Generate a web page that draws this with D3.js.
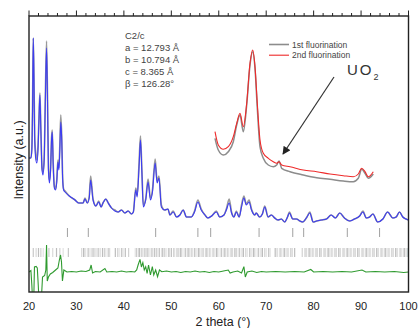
<!DOCTYPE html>
<html>
<head>
<meta charset="utf-8">
<script src="https://d3js.org/d3.v7.min.js"></script>
<style>
  body { margin: 0; background: #fff; }
  text { font-family: "Liberation Sans", Arial, sans-serif; }
</style>
</head>
<body>
<div id="chart"></div>
<script>
// Data (intensity in arbitrary units)
var theta = [
  20.0, 20.4, 20.6, 20.75, 20.9, 21.05, 21.2, 21.45, 21.65, 21.9,
  22.1, 22.3, 22.5, 22.75, 22.95, 23.2, 23.45, 23.7, 23.9, 24.1,
  24.3, 24.55, 24.75, 24.9, 25.1, 25.35, 25.6, 25.85, 26.1, 26.3,
  26.5, 26.7, 26.9, 27.1, 27.3, 27.6, 28.5, 29.7, 30.5, 31.4,
  31.8, 32.3, 32.7, 33.0, 33.5, 34.1, 34.7, 35.2, 35.6, 36.2,
  36.7, 37.4, 38.1, 38.8, 39.5, 40.2, 40.9, 41.6, 42.0, 42.5,
  42.8, 43.2, 43.5, 43.8, 44.1, 44.6, 45.1, 45.6, 46.0, 46.6,
  47.0, 47.4, 47.9, 48.6, 49.3, 49.7, 50.4, 51.1, 51.8, 52.5,
  53.2, 54.2, 54.9, 55.6, 56.3, 57.1, 57.7, 58.5, 59.5, 60.2,
  61.1, 61.6, 62.2, 62.7, 63.2, 63.7, 64.3, 64.8, 65.3, 65.8,
  66.4, 66.9, 67.6, 67.9, 68.6, 69.2, 69.7, 70.4, 71.1, 71.8,
  72.5, 73.2, 73.9, 74.5, 74.9, 75.6, 76.4, 77.1, 77.7, 78.6,
  79.2, 79.9, 80.6, 81.6, 82.7, 83.7, 84.6, 85.5, 86.5, 87.6,
  88.6, 89.7, 90.4, 91.1, 91.8, 92.5, 93.5, 94.6, 95.6, 96.7,
  97.4, 98.1, 98.8, 99.5, 100.0
];

var calcI = [
  134, 134, 142, 182, 254, 212, 152, 132, 129, 142,
  172, 197, 162, 122, 117, 132, 192, 244, 192, 122,
  109, 122, 152, 160, 127, 104, 102, 110, 130, 122,
  142, 170, 152, 112, 102, 100, 96, 92, 89, 89,
  93, 89, 94, 112, 92, 86, 90, 85, 89, 93,
  89, 84, 81, 80, 82, 79, 81, 78, 80, 102,
  95, 125, 152, 119, 85, 92, 110, 92, 99, 129,
  109, 114, 85, 82, 83, 77, 80, 75, 77, 82,
  75, 75, 80, 90, 82, 77, 74, 76, 80, 75,
  77, 82, 89, 79, 75, 80, 75, 85, 94, 87,
  90, 82, 77, 79, 75, 78, 85, 75, 77, 74,
  72, 73, 70, 75, 79, 73, 73, 71, 70, 75,
  79, 70, 71, 72, 73, 77, 74, 79, 74, 71,
  73, 76, 80, 74, 75, 78, 70, 73, 80, 74,
  75, 80, 75, 73, 72
];

var obsI = [
  134, 134, 144, 187, 254, 214, 157, 137, 132, 147,
  174, 199, 164, 124, 120, 134, 197, 251, 197, 124,
  112, 124, 154, 162, 129, 106, 103, 112, 132, 124,
  147, 177, 156, 114, 103, 101, 96, 92, 89, 89,
  94, 89, 96, 116, 93, 86, 91, 85, 89, 93,
  89, 84, 82, 80, 82, 79, 81, 78, 80, 104,
  97, 129, 156, 122, 87, 93, 113, 94, 101, 133,
  111, 116, 87, 82, 83, 77, 81, 75, 77, 82,
  75, 75, 81, 92, 83, 77, 74, 76, 81, 75,
  77, 83, 93, 80, 75, 81, 75, 87, 96, 88,
  92, 83, 77, 79, 75, 78, 86, 75, 77, 74,
  72, 73, 70, 75, 80, 73, 73, 71, 70, 75,
  80, 70, 71, 72, 73, 77, 74, 79, 74, 71,
  73, 76, 81, 74, 75, 78, 70, 73, 80, 74,
  75, 80, 75, 73, 72
];

// difference curve [2theta, value]
var diffData = [
  [20.0, 20], [20.4, 21.5], [20.6, 7], [20.75, -8], [21.0, -8], [21.15, 25],
  [21.5, 25.5], [21.75, 24], [21.95, 7], [22.1, -8], [22.6, -8], [22.85, 15],
  [23.3, 16.5], [23.55, 22], [23.7, 47], [23.85, 11], [24.1, 15], [24.5, 18],
  [25.0, 19.5], [25.6, 22], [26.1, 24], [26.4, 32], [26.65, 37], [26.85, 30],
  [27.05, 11], [27.35, 22], [28.0, 20], [29.0, 20.5], [30.0, 20], [31.0, 21],
  [32.0, 20.5], [32.8, 22], [33.1, 27], [33.4, 19], [34.0, 20.5], [35.0, 20],
  [36.0, 23.5], [36.4, 20], [37.5, 20.5], [38.5, 20], [39.5, 21], [40.5, 20],
  [41.5, 20.5], [42.3, 20], [42.7, 22], [43.0, 27], [43.4, 32.7], [43.7, 25],
  [44.0, 29.3], [44.3, 22], [44.6, 25.3], [44.9, 18.7], [45.2, 27], [45.6, 17],
  [46.0, 25.3], [46.3, 17], [46.7, 22], [47.1, 15.3], [47.5, 22], [48.0, 20.3],
  [49.0, 21], [50.0, 20], [51.0, 20.5], [52.0, 19.5], [53.0, 20.5], [54.0, 20],
  [55.0, 21], [56.0, 20], [57.0, 20.5], [58.0, 19.5], [59.0, 20.5], [60.0, 20],
  [61.0, 21], [62.0, 22], [62.4, 19], [63.0, 20], [64.0, 21], [64.8, 19],
  [65.3, 25.3], [65.6, 15], [66.0, 20], [67.0, 21], [68.0, 19.5], [69.0, 20.5],
  [70.0, 20], [72.0, 20.5], [74.0, 20], [76.0, 20.5], [78.0, 20], [79.4, 22.5],
  [80.0, 20], [82.0, 20.5], [84.0, 20], [86.0, 20.5], [88.0, 20], [90.2, 22],
  [91.0, 20], [93.0, 20.5], [95.0, 20], [97.0, 20.5], [99.0, 19.5], [100.0, 20]
];

// Bragg reflection markers
var phaseTicks = [28.1, 32.5, 46.7, 55.6, 58.3, 68.5, 75.6, 77.9, 87.1, 93.9];
var refTicks = [
  20.9, 21.5, 22.0, 22.5, 23.0, 24.2, 25.0, 25.8, 26.5, 27.2, 28.3,
  31.1, 31.5, 31.8, 32.3, 32.6, 33.1, 33.5, 33.9, 34.3, 34.6, 35.0, 35.5,
  35.9, 36.2, 36.7, 37.0, 38.2, 38.7, 39.0, 39.5, 39.8, 40.3, 41.0,
  42.4, 42.7, 43.1, 43.3, 43.7, 43.9, 44.3, 44.5, 44.9, 45.1, 45.5, 45.9,
  46.1, 46.5, 46.9, 47.2, 47.5, 48.0, 48.2, 48.6, 48.9, 49.4, 49.6, 50.0,
  50.5, 50.7, 51.2, 51.5, 51.9, 52.2, 52.7, 53.0, 53.4, 53.7, 54.2, 54.5,
  54.9, 55.2, 55.7, 56.0, 56.4, 56.7, 57.2, 57.5, 58.0, 58.3, 58.8, 59.0,
  59.5, 59.8, 60.3, 60.6, 61.1, 61.3, 61.8, 62.1, 62.6, 62.9, 63.4, 63.7,
  64.1, 64.4, 64.9, 65.2, 65.7, 66.0, 66.5, 66.8, 67.3, 67.6, 68.1, 68.4,
  68.9, 69.2, 69.7, 70.0, 70.5, 70.8, 71.9, 72.3, 72.8, 73.1, 73.6, 73.9,
  74.4, 74.7, 75.2, 75.5, 76.0, 77.6, 78.1, 78.4, 78.9, 79.2, 79.7, 80.0,
  80.5, 80.8, 81.3, 81.6, 82.1, 82.4, 82.9, 83.2, 83.7, 84.0, 84.5, 84.8,
  85.3, 85.6, 86.1, 86.4, 86.9, 87.2, 87.7, 88.0, 88.5, 88.8, 89.3, 89.6,
  90.1, 90.4, 90.9, 91.2, 91.7, 92.0, 92.5, 92.8, 93.3, 93.6, 94.1, 94.4,
  94.9, 95.2, 95.7, 96.0, 96.5, 96.8, 97.3, 97.6, 98.1, 98.4, 98.9, 99.2,
  99.7, 100.0
];

// inset: fluorination patterns [2theta, value]
var firstFluo = [
  [20.0, 61.7], [20.33, 50], [20.83, 45], [21.33, 48.3], [21.83, 58.3], [22.17, 75],
  [22.5, 85], [22.83, 68.3], [23.17, 95], [23.5, 135], [23.77, 148.3], [24.0, 131.7],
  [24.23, 91.7], [24.5, 53.3], [24.83, 41.7], [25.33, 35], [25.83, 33.3], [26.17, 35],
  [26.4, 39], [26.67, 31.7], [27.5, 28.3], [28.83, 25], [30.17, 22.3], [31.5, 20.7],
  [32.83, 19], [33.83, 18.3], [34.33, 21.7], [34.67, 30.7], [35.0, 26.7], [35.33, 21.7],
  [35.83, 26]
];
var secondFluo = [
  [20.0, 68.3], [20.33, 55], [20.83, 50.7], [21.33, 53.3], [21.83, 63.3], [22.17, 76.7],
  [22.5, 86.7], [22.83, 73.3], [23.17, 96.7], [23.5, 136.7], [23.77, 150], [24.0, 133.3],
  [24.23, 96.7], [24.5, 60], [24.83, 46.7], [25.33, 41.7], [25.83, 38.3], [26.17, 36.7],
  [26.4, 38.3], [26.67, 35], [27.5, 33.3], [28.83, 30], [30.17, 28.3], [31.5, 26],
  [32.83, 24.3], [33.83, 23.3], [34.33, 26], [34.67, 31.7], [35.0, 28.3], [35.33, 23.3],
  [35.83, 28.3]
];

var xTicks = [20, 30, 40, 50, 60, 70, 80, 90, 100];
var cellLines = ["C2/c", "a = 12.793 Å", "b = 10.794 Å", "c = 8.365 Å", "β = 126.28°"];
var legendLabels = ["1st fluorination", "2nd fluorination"];

// Set up chart
var svgWidth = 420;
var svgHeight = 328;

var margin = {top: 16, right: 11.5, bottom: 36, left: 29};
var width = svgWidth - margin.left - margin.right;
var height = svgHeight - margin.top - margin.bottom;

var svg = d3.select("#chart")
  .append("svg")
  .attr("width", svgWidth)
  .attr("height", svgHeight);

var chartGroup = svg.append("g")
  .attr("transform", `translate(${margin.left}, ${margin.top})`);

var xScale = d3.scaleLinear().domain([20, 100]).range([0, width]);
var yScale = d3.scaleLinear().domain([0, 276]).range([height, 0]);

svg.append("defs").append("clipPath")
  .attr("id", "plotClip")
  .append("rect")
  .attr("width", width)
  .attr("height", height);

svg.select("defs").append("marker")
  .attr("id", "arrowHead")
  .attr("viewBox", "0 0 10 10")
  .attr("refX", 9)
  .attr("refY", 5)
  .attr("markerWidth", 9)
  .attr("markerHeight", 8)
  .attr("markerUnits", "userSpaceOnUse")
  .attr("orient", "auto")
  .append("path")
  .attr("d", "M0,0 L10,5 L0,10 z")
  .attr("fill", "#222");

var plot = chartGroup.append("g").attr("clip-path", "url(#plotClip)");

var mainLine = d3.line()
  .x(d => xScale(d[0]))
  .y(d => yScale(d[1]))
  .curve(d3.curveMonotoneX);

var obsPoints = theta.map((t, i) => [t, obsI[i]]);
var calcPoints = theta.map((t, i) => [t, calcI[i]]);

plot.append("path")
  .datum(obsPoints)
  .attr("d", mainLine)
  .attr("fill", "none")
  .attr("stroke", "#9a9a9a")
  .attr("stroke-width", 1.6);

plot.append("path")
  .datum(calcPoints)
  .attr("d", mainLine)
  .attr("fill", "none")
  .attr("stroke", "#3c3cf2")
  .attr("stroke-width", 1.1);

// reflection markers
plot.selectAll(".phaseTick")
  .data(phaseTicks)
  .enter()
  .append("line")
  .attr("x1", d => xScale(d))
  .attr("x2", d => xScale(d))
  .attr("y1", 212)
  .attr("y2", 221)
  .attr("stroke", "#a0a0a0")
  .attr("stroke-width", 1);

var refShades = ["#c8c8c8", "#dadada", "#bdbdbd", "#d2d2d2", "#e2e2e2"];
plot.selectAll(".refTick")
  .data(refTicks)
  .enter()
  .append("line")
  .attr("x1", d => xScale(d))
  .attr("x2", d => xScale(d))
  .attr("y1", 232)
  .attr("y2", 241)
  .attr("stroke", (d, i) => i === refTicks.length - 1 ? "#55cccc" : refShades[i % refShades.length])
  .attr("stroke-width", 1.2);

plot.append("path")
  .datum(diffData)
  .attr("d", d3.line().x(d => xScale(d[0])).y(d => yScale(d[1])))
  .attr("fill", "none")
  .attr("stroke", "#2f9a2f")
  .attr("stroke-width", 1.1);

// Frame and axes
chartGroup.append("rect")
  .attr("width", width)
  .attr("height", height)
  .attr("fill", "none")
  .attr("stroke", "#222")
  .attr("stroke-width", 1.4);

var topTicks = d3.range(20, 101, 2);
chartGroup.selectAll(".topTick")
  .data(topTicks)
  .enter()
  .append("line")
  .attr("x1", d => xScale(d))
  .attr("x2", d => xScale(d))
  .attr("y1", 0)
  .attr("y2", d => d % 10 === 0 ? -5.5 : -3)
  .attr("stroke", "#222")
  .attr("stroke-width", 1);

chartGroup.selectAll(".xLabel")
  .data(xTicks)
  .enter()
  .append("text")
  .attr("x", d => xScale(d))
  .attr("y", height + 17.5)
  .attr("text-anchor", "middle")
  .attr("font-size", "11px")
  .attr("fill", "#222")
  .text(d => d);

chartGroup.append("text")
  .attr("x", 194)
  .attr("y", height + 34)
  .attr("text-anchor", "middle")
  .attr("font-size", "12.5px")
  .attr("fill", "#222")
  .text("2 theta (°)");

svg.append("text")
  .attr("transform", "translate(23, 160) rotate(-90)")
  .attr("text-anchor", "middle")
  .attr("font-size", "12.5px")
  .attr("fill", "#222")
  .text("Intensity (a.u.)");

// Cell parameters
chartGroup.selectAll(".cellText")
  .data(cellLines)
  .enter()
  .append("text")
  .attr("x", 96)
  .attr("y", (d, i) => 22.5 + i * 12)
  .attr("font-size", "9.5px")
  .attr("fill", "#444")
  .text(d => d);

// Inset
var insetX = d3.scaleLinear().domain([20, 36]).range([215, 375]);
var insetY = d3.scaleLinear().domain([0, 160]).range([200, 40]);
var insetLine = d3.line()
  .x(d => insetX(d[0]))
  .y(d => insetY(d[1]))
  .curve(d3.curveMonotoneX);

svg.append("path")
  .datum(firstFluo)
  .attr("d", insetLine)
  .attr("fill", "none")
  .attr("stroke", "#8c8c8c")
  .attr("stroke-width", 1.5);

svg.append("path")
  .datum(secondFluo)
  .attr("d", insetLine)
  .attr("fill", "none")
  .attr("stroke", "#ee2a2a")
  .attr("stroke-width", 1.1);

var legendColors = ["#8c8c8c", "#ee2a2a"];
var legend = svg.selectAll(".legendItem")
  .data(legendLabels)
  .enter()
  .append("g")
  .attr("transform", (d, i) => `translate(269, ${44.5 + i * 10.7})`);

legend.append("line")
  .attr("x1", 0)
  .attr("x2", 20)
  .attr("stroke", (d, i) => legendColors[i])
  .attr("stroke-width", (d, i) => i === 0 ? 1.6 : 1.1);

legend.append("text")
  .attr("x", 23)
  .attr("y", 3)
  .attr("font-size", "8.5px")
  .attr("fill", "#444")
  .text(d => d);

// UO2 annotation
var uoText = svg.append("text")
  .attr("x", 347)
  .attr("y", 75)
  .attr("font-size", "15px")
  .attr("letter-spacing", "2px")
  .attr("fill", "#333");
uoText.append("tspan").text("UO");
uoText.append("tspan")
  .attr("dy", 5)
  .attr("font-size", "9px")
  .attr("letter-spacing", "0px")
  .text("2");

svg.append("line")
  .attr("x1", 334)
  .attr("y1", 77)
  .attr("x2", 283)
  .attr("y2", 154)
  .attr("stroke", "#333")
  .attr("stroke-width", 1.2)
  .attr("marker-end", "url(#arrowHead)");
</script>
</body>
</html>
